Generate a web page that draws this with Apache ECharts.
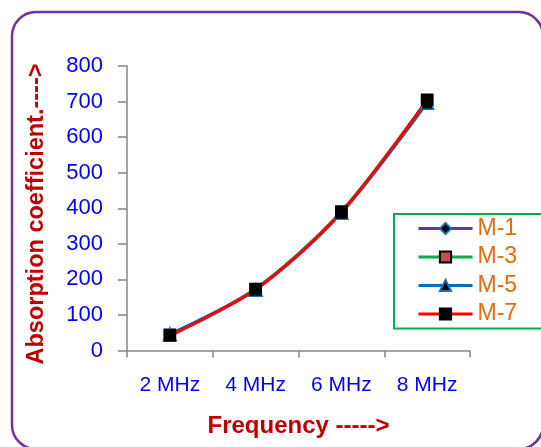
<!DOCTYPE html>
<html><head><meta charset="utf-8">
<script src="https://cdn.jsdelivr.net/npm/echarts@6/dist/echarts.min.js"></script>
<style>html,body{margin:0;padding:0;background:#fff}#c{width:541px;height:447px}</style>
</head><body><div id="c"></div>
<script>
const categories = ['2 MHz', '4 MHz', '6 MHz', '8 MHz'];
const m1 = [45, 174, 390, 700];
const m3 = [44, 173, 391, 703];
const m5 = [46, 171, 387, 697];
const m7 = [42, 172, 389, 705];
const yTicks = [0, 100, 200, 300, 400, 500, 600, 700, 800];
const yTitle = 'Absorption coefficient.---->';
const xTitle = 'Frequency ----->';

const font = 'Liberation Sans';
const chart = echarts.init(document.getElementById('c'), null, {renderer: 'canvas'});
function ser(name, data, color, symbol, symColor, symBorder) {
  return {
    name, type: 'line', data, smooth: 0.3, symbol, symbolSize: symbol === 'triangle' ? 13 : 11,
    lineStyle: {color, width: 3},
    itemStyle: {color: symColor, borderColor: symBorder, borderWidth: 1.5},
    emphasis: {disabled: true}
  };
}
chart.setOption({
  animation: false,
  graphic: [{
    type: 'rect', shape: {x: 12, y: 12, width: 531, height: 437, r: 24},
    style: {fill: 'none', stroke: '#7030A0', lineWidth: 2.5}, z: -10
  }, {
    type: 'text', x: 37, y: 214, rotation: Math.PI / 2,
    style: {text: yTitle, fill: '#C00000', font: 'bold 23.5px "Liberation Sans"', align: 'center', verticalAlign: 'middle'}
  }],
  grid: {left: 127, right: 71, top: 66, bottom: 96.5, containLabel: false},
  legend: {
    orient: 'vertical', left: 394, top: 214,
    padding: [3, 30, 3, 23], itemGap: 5.5, itemWidth: 54, itemHeight: 14,
    borderColor: '#00B050', borderWidth: 2,
    lineStyle: {width: 3},
    textStyle: {color: '#E46C0A', fontSize: 23, fontFamily: font, lineHeight: 22},
    data: ['M-1', 'M-3', 'M-5', 'M-7']
  },
  xAxis: {
    type: 'category', data: categories, boundaryGap: true,
    axisLine: {lineStyle: {color: '#868686', width: 1.5}},
    axisTick: {show: true, length: 7, lineStyle: {color: '#868686', width: 1.5}},
    axisLabel: {color: '#0000FF', fontSize: 21, fontFamily: font, margin: 24},
    name: xTitle, nameLocation: 'middle', nameGap: 64,
    nameTextStyle: {color: '#C00000', fontSize: 24, fontWeight: 'bold', fontFamily: font}
  },
  yAxis: {
    type: 'value', min: 0, max: 800, interval: 100,
    axisLine: {show: true, lineStyle: {color: '#868686', width: 1.5}},
    axisTick: {show: true, length: 9, lineStyle: {color: '#868686', width: 1.5}},
    splitLine: {show: false},
    axisLabel: {color: '#0000FF', fontSize: 22, fontFamily: font, margin: 24,
      formatter: v => yTicks.includes(v) ? String(v) : ''}
  },
  series: [
    ser('M-1', m1, '#7030A0', 'diamond', '#000000', '#1F6FB5'),
    ser('M-3', m3, '#00B050', 'rect', '#C0504D', '#000000'),
    ser('M-5', m5, '#0070C0', 'triangle', '#000000', '#1F6FB5'),
    ser('M-7', m7, '#FF0000', 'rect', '#000000', '#000000')
  ]
});
</script></body></html>
